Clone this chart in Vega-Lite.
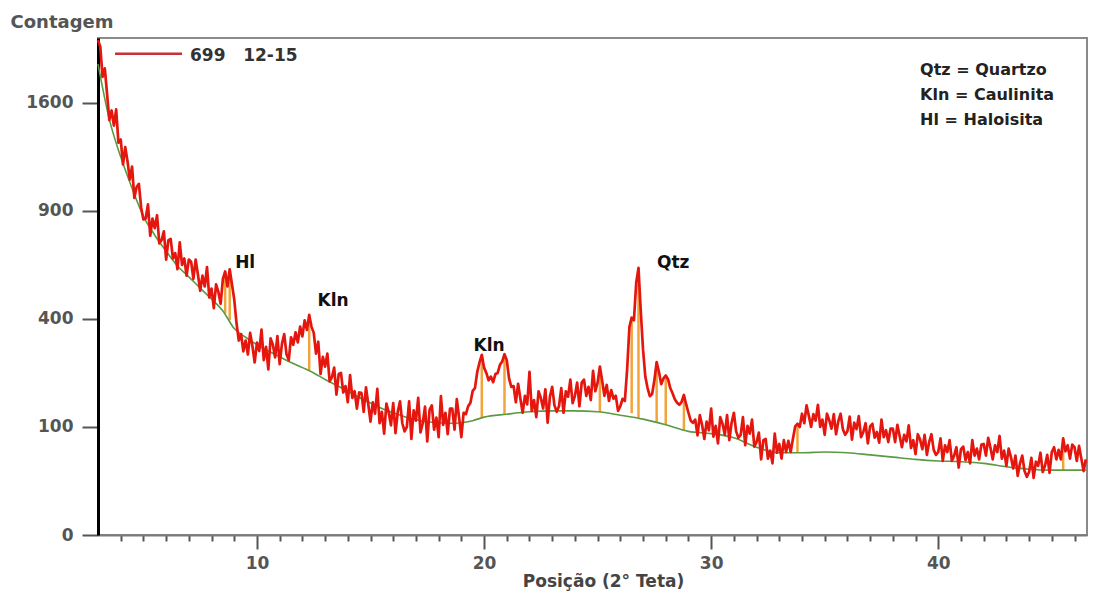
{
"$schema":"https://vega.github.io/schema/vega-lite/v6.json",
"width":989,"height":497,
"autosize":{"type":"none"},
"padding":{"left":98,"top":38,"right":12,"bottom":59},
"background":"#ffffff",
"config":{"view":{"stroke":"#8a8a8a","strokeWidth":2}},
"datasets":{
"sig":[
{"pos":3.0,"count":2098},{"pos":3.1,"count":2043},{"pos":3.2,"count":1798},{"pos":3.3,"count":1866},{"pos":3.4,"count":1665},{"pos":3.5,"count":1475},{"pos":3.6,"count":1544},{"pos":3.7,"count":1436},{"pos":3.8,"count":1552},{"pos":3.9,"count":1318},
{"pos":4.0,"count":1340},{"pos":4.1,"count":1176},{"pos":4.2,"count":1289},{"pos":4.3,"count":1197},{"pos":4.4,"count":1082},{"pos":4.5,"count":1163},{"pos":4.6,"count":973},{"pos":4.7,"count":1037},{"pos":4.8,"count":1056},{"pos":4.9,"count":918},
{"pos":5.0,"count":853},{"pos":5.1,"count":858},{"pos":5.2,"count":936},{"pos":5.3,"count":767},{"pos":5.4,"count":858},{"pos":5.5,"count":807},{"pos":5.6,"count":876},{"pos":5.7,"count":729},{"pos":5.8,"count":745},{"pos":5.9,"count":790},
{"pos":6.0,"count":650},{"pos":6.1,"count":745},{"pos":6.2,"count":751},{"pos":6.3,"count":655},{"pos":6.4,"count":681},{"pos":6.5,"count":605},{"pos":6.6,"count":734},{"pos":6.7,"count":625},{"pos":6.8,"count":655},{"pos":6.9,"count":576},
{"pos":7.0,"count":650},{"pos":7.1,"count":640},{"pos":7.2,"count":562},{"pos":7.3,"count":650},{"pos":7.4,"count":581},{"pos":7.5,"count":511},{"pos":7.6,"count":576},{"pos":7.7,"count":529},{"pos":7.8,"count":615},{"pos":7.9,"count":484},
{"pos":8.0,"count":520},{"pos":8.1,"count":441},{"pos":8.2,"count":538},{"pos":8.3,"count":506},{"pos":8.4,"count":458},{"pos":8.5,"count":562},{"pos":8.6,"count":595},{"pos":8.7,"count":529},{"pos":8.8,"count":605},{"pos":8.9,"count":538},
{"pos":9.0,"count":475},{"pos":9.1,"count":384},{"pos":9.2,"count":324},{"pos":9.3,"count":346},{"pos":9.4,"count":289},{"pos":9.5,"count":324},{"pos":9.6,"count":279},{"pos":9.7,"count":350},{"pos":9.8,"count":306},{"pos":9.9,"count":255},
{"pos":10.0,"count":317},{"pos":10.1,"count":290},{"pos":10.2,"count":361},{"pos":10.3,"count":262},{"pos":10.4,"count":303},{"pos":10.5,"count":235},{"pos":10.6,"count":331},{"pos":10.7,"count":310},{"pos":10.8,"count":270},{"pos":10.9,"count":339},
{"pos":11.0,"count":250},{"pos":11.1,"count":313},{"pos":11.2,"count":346},{"pos":11.3,"count":280},{"pos":11.4,"count":262},{"pos":11.5,"count":335},{"pos":11.6,"count":310},{"pos":11.7,"count":352},{"pos":11.8,"count":318},{"pos":11.9,"count":372},
{"pos":12.0,"count":338},{"pos":12.1,"count":395},{"pos":12.2,"count":360},{"pos":12.3,"count":415},{"pos":12.4,"count":372},{"pos":12.5,"count":350},{"pos":12.6,"count":282},{"pos":12.7,"count":320},{"pos":12.8,"count":222},{"pos":12.9,"count":272},
{"pos":13.0,"count":243},{"pos":13.1,"count":282},{"pos":13.2,"count":202},{"pos":13.3,"count":213},{"pos":13.4,"count":240},{"pos":13.5,"count":169},{"pos":13.6,"count":222},{"pos":13.7,"count":225},{"pos":13.8,"count":174},{"pos":13.9,"count":190},
{"pos":14.0,"count":151},{"pos":14.1,"count":219},{"pos":14.2,"count":161},{"pos":14.3,"count":177},{"pos":14.4,"count":137},{"pos":14.5,"count":174},{"pos":14.6,"count":173},{"pos":14.7,"count":130},{"pos":14.8,"count":187},{"pos":14.9,"count":147},
{"pos":15.0,"count":110},{"pos":15.1,"count":151},{"pos":15.2,"count":126},{"pos":15.3,"count":183},{"pos":15.4,"count":107},{"pos":15.5,"count":130},{"pos":15.6,"count":88},{"pos":15.7,"count":148},{"pos":15.8,"count":129},{"pos":15.9,"count":103},
{"pos":16.0,"count":149},{"pos":16.1,"count":89},{"pos":16.2,"count":130},{"pos":16.3,"count":153},{"pos":16.4,"count":107},{"pos":16.5,"count":92},{"pos":16.6,"count":100},{"pos":16.7,"count":153},{"pos":16.8,"count":79},{"pos":16.9,"count":133},
{"pos":17.0,"count":112},{"pos":17.1,"count":161},{"pos":17.2,"count":90},{"pos":17.3,"count":107},{"pos":17.4,"count":141},{"pos":17.5,"count":75},{"pos":17.6,"count":134},{"pos":17.7,"count":144},{"pos":17.8,"count":95},{"pos":17.9,"count":118},
{"pos":18.0,"count":82},{"pos":18.1,"count":165},{"pos":18.2,"count":104},{"pos":18.3,"count":128},{"pos":18.4,"count":87},{"pos":18.5,"count":137},{"pos":18.6,"count":137},{"pos":18.7,"count":95},{"pos":18.8,"count":158},{"pos":18.9,"count":118},
{"pos":19.0,"count":82},{"pos":19.1,"count":128},{"pos":19.2,"count":125},{"pos":19.3,"count":142},{"pos":19.4,"count":150},{"pos":19.5,"count":178},{"pos":19.6,"count":185},{"pos":19.7,"count":228},{"pos":19.8,"count":255},{"pos":19.9,"count":278},
{"pos":20.0,"count":240},{"pos":20.1,"count":225},{"pos":20.2,"count":205},{"pos":20.3,"count":215},{"pos":20.4,"count":200},{"pos":20.5,"count":222},{"pos":20.6,"count":225},{"pos":20.7,"count":248},{"pos":20.8,"count":258},{"pos":20.9,"count":280},
{"pos":21.0,"count":262},{"pos":21.1,"count":210},{"pos":21.2,"count":188},{"pos":21.3,"count":190},{"pos":21.4,"count":151},{"pos":21.5,"count":196},{"pos":21.6,"count":159},{"pos":21.7,"count":128},{"pos":21.8,"count":166},{"pos":21.9,"count":146},
{"pos":22.0,"count":228},{"pos":22.1,"count":132},{"pos":22.2,"count":156},{"pos":22.3,"count":119},{"pos":22.4,"count":177},{"pos":22.5,"count":161},{"pos":22.6,"count":137},{"pos":22.7,"count":182},{"pos":22.8,"count":108},{"pos":22.9,"count":164},
{"pos":23.0,"count":188},{"pos":23.1,"count":144},{"pos":23.2,"count":130},{"pos":23.3,"count":142},{"pos":23.4,"count":185},{"pos":23.5,"count":128},{"pos":23.6,"count":177},{"pos":23.7,"count":164},{"pos":23.8,"count":207},{"pos":23.9,"count":149},
{"pos":24.0,"count":166},{"pos":24.1,"count":199},{"pos":24.2,"count":142},{"pos":24.3,"count":199},{"pos":24.4,"count":207},{"pos":24.5,"count":166},{"pos":24.6,"count":188},{"pos":24.7,"count":156},{"pos":24.8,"count":231},{"pos":24.9,"count":177},
{"pos":25.0,"count":199},{"pos":25.1,"count":243},{"pos":25.2,"count":204},{"pos":25.3,"count":166},{"pos":25.4,"count":193},{"pos":25.5,"count":154},{"pos":25.6,"count":180},{"pos":25.7,"count":159},{"pos":25.8,"count":166},{"pos":25.9,"count":132},
{"pos":26.0,"count":142},{"pos":26.1,"count":159},{"pos":26.2,"count":154},{"pos":26.3,"count":235},{"pos":26.4,"count":370},{"pos":26.5,"count":405},{"pos":26.6,"count":395},{"pos":26.7,"count":545},{"pos":26.8,"count":611},{"pos":26.9,"count":430},
{"pos":27.0,"count":295},{"pos":27.1,"count":215},{"pos":27.2,"count":185},{"pos":27.3,"count":165},{"pos":27.4,"count":170},{"pos":27.5,"count":205},{"pos":27.6,"count":256},{"pos":27.7,"count":228},{"pos":27.8,"count":195},{"pos":27.9,"count":210},
{"pos":28.0,"count":218},{"pos":28.1,"count":208},{"pos":28.2,"count":185},{"pos":28.3,"count":172},{"pos":28.4,"count":158},{"pos":28.5,"count":150},{"pos":28.6,"count":145},{"pos":28.7,"count":152},{"pos":28.8,"count":168},{"pos":28.9,"count":146},
{"pos":29.0,"count":128},{"pos":29.1,"count":112},{"pos":29.2,"count":108},{"pos":29.3,"count":114},{"pos":29.4,"count":85},{"pos":29.5,"count":123},{"pos":29.6,"count":104},{"pos":29.7,"count":79},{"pos":29.8,"count":110},{"pos":29.9,"count":94},
{"pos":30.0,"count":137},{"pos":30.1,"count":83},{"pos":30.2,"count":102},{"pos":30.3,"count":72},{"pos":30.4,"count":119},{"pos":30.5,"count":106},{"pos":30.6,"count":86},{"pos":30.7,"count":123},{"pos":30.8,"count":77},{"pos":30.9,"count":108},
{"pos":31.0,"count":128},{"pos":31.1,"count":92},{"pos":31.2,"count":81},{"pos":31.3,"count":86},{"pos":31.4,"count":119},{"pos":31.5,"count":69},{"pos":31.6,"count":102},{"pos":31.7,"count":88},{"pos":31.8,"count":114},{"pos":31.9,"count":67},
{"pos":32.0,"count":74},{"pos":32.1,"count":90},{"pos":32.2,"count":49},{"pos":32.3,"count":77},{"pos":32.4,"count":79},{"pos":32.5,"count":50},{"pos":32.6,"count":61},{"pos":32.7,"count":44},{"pos":32.8,"count":88},{"pos":32.9,"count":58},
{"pos":33.0,"count":71},{"pos":33.1,"count":50},{"pos":33.2,"count":77},{"pos":33.3,"count":59},{"pos":33.4,"count":76},{"pos":33.5,"count":59},{"pos":33.6,"count":79},{"pos":33.7,"count":101},{"pos":33.8,"count":106},{"pos":33.9,"count":100},
{"pos":34.0,"count":126},{"pos":34.1,"count":107},{"pos":34.2,"count":144},{"pos":34.3,"count":122},{"pos":34.4,"count":100},{"pos":34.5,"count":125},{"pos":34.6,"count":112},{"pos":34.7,"count":145},{"pos":34.8,"count":100},{"pos":34.9,"count":114},
{"pos":35.0,"count":86},{"pos":35.1,"count":126},{"pos":35.2,"count":113},{"pos":35.3,"count":97},{"pos":35.4,"count":125},{"pos":35.5,"count":87},{"pos":35.6,"count":111},{"pos":35.7,"count":126},{"pos":35.8,"count":96},{"pos":35.9,"count":86},
{"pos":36.0,"count":92},{"pos":36.1,"count":120},{"pos":36.2,"count":78},{"pos":36.3,"count":108},{"pos":36.4,"count":96},{"pos":36.5,"count":121},{"pos":36.6,"count":82},{"pos":36.7,"count":91},{"pos":36.8,"count":107},{"pos":36.9,"count":72},
{"pos":37.0,"count":101},{"pos":37.1,"count":106},{"pos":37.2,"count":81},{"pos":37.3,"count":91},{"pos":37.4,"count":73},{"pos":37.5,"count":114},{"pos":37.6,"count":82},{"pos":37.7,"count":94},{"pos":37.8,"count":74},{"pos":37.9,"count":97},
{"pos":38.0,"count":97},{"pos":38.1,"count":74},{"pos":38.2,"count":104},{"pos":38.3,"count":84},{"pos":38.4,"count":66},{"pos":38.5,"count":86},{"pos":38.6,"count":75},{"pos":38.7,"count":103},{"pos":38.8,"count":65},{"pos":38.9,"count":77},
{"pos":39.0,"count":56},{"pos":39.1,"count":87},{"pos":39.2,"count":78},{"pos":39.3,"count":63},{"pos":39.4,"count":86},{"pos":39.5,"count":55},{"pos":39.6,"count":74},{"pos":39.7,"count":87},{"pos":39.8,"count":62},{"pos":39.9,"count":55},
{"pos":40.0,"count":59},{"pos":40.1,"count":80},{"pos":40.2,"count":47},{"pos":40.3,"count":69},{"pos":40.4,"count":59},{"pos":40.5,"count":77},{"pos":40.6,"count":47},{"pos":40.7,"count":54},{"pos":40.8,"count":66},{"pos":40.9,"count":39},
{"pos":41.0,"count":63},{"pos":41.1,"count":67},{"pos":41.2,"count":48},{"pos":41.3,"count":59},{"pos":41.4,"count":44},{"pos":41.5,"count":77},{"pos":41.6,"count":54},{"pos":41.7,"count":64},{"pos":41.8,"count":49},{"pos":41.9,"count":70},
{"pos":42.0,"count":71},{"pos":42.1,"count":54},{"pos":42.2,"count":81},{"pos":42.3,"count":65},{"pos":42.4,"count":49},{"pos":42.5,"count":69},{"pos":42.6,"count":59},{"pos":42.7,"count":84},{"pos":42.8,"count":50},{"pos":42.9,"count":61},
{"pos":43.0,"count":41},{"pos":43.1,"count":64},{"pos":43.2,"count":52},{"pos":43.3,"count":38},{"pos":43.4,"count":54},{"pos":43.5,"count":30},{"pos":43.6,"count":44},{"pos":43.7,"count":54},{"pos":43.8,"count":35},{"pos":43.9,"count":29},
{"pos":44.0,"count":34},{"pos":44.1,"count":51},{"pos":44.2,"count":28},{"pos":44.3,"count":46},{"pos":44.4,"count":41},{"pos":44.5,"count":58},{"pos":44.6,"count":34},{"pos":44.7,"count":41},{"pos":44.8,"count":55},{"pos":44.9,"count":33},
{"pos":45.0,"count":59},{"pos":45.1,"count":66},{"pos":45.2,"count":49},{"pos":45.3,"count":62},{"pos":45.4,"count":49},{"pos":45.5,"count":80},{"pos":45.6,"count":60},{"pos":45.7,"count":69},{"pos":45.8,"count":50},{"pos":45.9,"count":70},
{"pos":46.0,"count":66},{"pos":46.1,"count":47},{"pos":46.2,"count":68},{"pos":46.3,"count":50},{"pos":46.4,"count":35},{"pos":46.5,"count":49}
],
"bg":[
{"pos":3.0,"count":1900},{"pos":3.5,"count":1480},{"pos":4.0,"count":1225},{"pos":4.5,"count":1030},{"pos":5.0,"count":870},{"pos":5.5,"count":770},{"pos":6.0,"count":690},{"pos":6.5,"count":620},{"pos":7.0,"count":571},{"pos":7.5,"count":522},{"pos":8.0,"count":477},{"pos":8.5,"count":430},{"pos":9.0,"count":365},{"pos":9.5,"count":335},{"pos":10.0,"count":310},{"pos":10.5,"count":290},{"pos":11.0,"count":272},{"pos":11.5,"count":255},{"pos":12.0,"count":240},{"pos":12.5,"count":225},{"pos":13.0,"count":207},{"pos":13.5,"count":192},{"pos":14.0,"count":177},{"pos":14.5,"count":162},{"pos":15.0,"count":149},{"pos":15.5,"count":137},{"pos":16.0,"count":128},{"pos":16.5,"count":120},{"pos":17.0,"count":114},{"pos":17.5,"count":110},{"pos":18.0,"count":108},{"pos":18.5,"count":107},{"pos":19.0,"count":108},{"pos":19.5,"count":112},{"pos":20.0,"count":119},{"pos":21.0,"count":125},{"pos":22.0,"count":130},{"pos":23.0,"count":132},{"pos":24.0,"count":132},{"pos":25.0,"count":130},{"pos":26.0,"count":123},{"pos":27.0,"count":115},{"pos":28.0,"count":104},{"pos":29.0,"count":92},{"pos":30.0,"count":88},{"pos":31.0,"count":81},{"pos":32.0,"count":66},{"pos":33.0,"count":58},{"pos":34.0,"count":58},{"pos":35.0,"count":59},{"pos":36.0,"count":58},{"pos":37.0,"count":55},{"pos":38.0,"count":52},{"pos":39.0,"count":49},{"pos":40.0,"count":47},{"pos":41.0,"count":46},{"pos":42.0,"count":44},{"pos":43.0,"count":40},{"pos":44.0,"count":37},{"pos":45.0,"count":36},{"pos":46.5,"count":36}
],
"sticks":[
{"pos":8.6,"count":420,"top":595},{"pos":8.8,"count":395,"top":605},{"pos":12.3,"count":231,"top":415},{"pos":19.9,"count":118,"top":278},{"pos":20.9,"count":124,"top":280},{"pos":25.1,"count":130,"top":243},{"pos":26.5,"count":127,"top":405},{"pos":26.8,"count":117,"top":611},{"pos":27.6,"count":109,"top":256},{"pos":28.0,"count":104,"top":218},{"pos":28.8,"count":94,"top":168},{"pos":33.8,"count":58,"top":106},{"pos":45.5,"count":36,"top":80}
],
"peaks":[
{"pos":9.48,"count":634,"label":"Hl"},{"pos":13.35,"count":469,"label":"Kln"},{"pos":20.22,"count":306,"label":"Kln"},{"pos":28.33,"count":634,"label":"Qtz"}
],
"key":[
{"pos":39.2,"count":1854,"label":"Qtz = Quartzo"},{"pos":39.2,"count":1660,"label":"Kln = Caulinita"},{"pos":39.2,"count":1477,"label":"Hl = Haloisita"}
],
"legline":[{"pos":3.75,"pos2":6.7,"count":1984}],
"legtext":[{"pos":7.05,"count":1967,"label":"699\u00a0\u00a0\u00a012-15"}]
},
"encoding":{
"x":{"field":"pos","type":"quantitative",
 "scale":{"domain":[3,46.55],"nice":false,"zero":false},
 "axis":{"values":[4,5,6,7,8,9,10,11,12,13,14,15,16,17,18,19,20,21,22,23,24,25,26,27,28,29,30,31,32,33,34,35,36,37,38,39,40,41,42,43,44,45,46],
  "tickSize":{"condition":{"test":"datum.value % 10 === 0","value":14},"value":6},
  "labelExpr":"datum.value % 10 === 0 ? datum.label : ''",
  "grid":false,"domainColor":"#7a7a7a","domainWidth":2,"tickColor":"#555555","tickWidth":2,
  "labelFont":"DejaVu Sans","labelFontWeight":"bold","labelFontSize":17,"labelColor":"#555555","labelPadding":6,
  "title":"Posição (2° Teta)","titleFont":"DejaVu Sans","titleFontWeight":"bold","titleFontSize":17,"titleColor":"#444444","titlePadding":2,"titleX":505}},
"y":{"field":"count","type":"quantitative",
 "scale":{"type":"sqrt","domain":[0,2116],"nice":false},
 "axis":{"values":[0,100,400,900,1600],"format":"d","grid":false,"domainColor":"#000000","domainWidth":3,"tickColor":"#555555","tickWidth":2,"tickSize":16,
  "labelFont":"DejaVu Sans","labelFontWeight":"bold","labelFontSize":17,"labelColor":"#555555","labelPadding":9,
  "title":"Contagem","titleAngle":0,"titleAlign":"left","titleBaseline":"middle","titleX":-88,"titleY":-16,
  "titleFont":"DejaVu Sans","titleFontWeight":"bold","titleFontSize":18,"titleColor":"#555555"}}
},
"layer":[
{"data":{"name":"sticks"},"mark":{"type":"rule","color":"#f2a43a","strokeWidth":2.5},"encoding":{"y2":{"field":"top"}}},
{"data":{"name":"bg"},"mark":{"type":"line","color":"#5a9a40","strokeWidth":1.6,"interpolate":"monotone"},"encoding":{}},
{"data":{"name":"sig"},"mark":{"type":"line","color":"#e5160e","strokeWidth":2.7,"strokeJoin":"round"},"encoding":{}},
{"data":{"name":"legline"},"mark":{"type":"rule","color":"#c83038","strokeWidth":2.5},"encoding":{"x2":{"field":"pos2"}}},
{"data":{"name":"legtext"},"mark":{"type":"text","align":"left","baseline":"middle","font":"DejaVu Sans","fontWeight":"bold","fontSize":17,"color":"#333333"},"encoding":{"text":{"field":"label"}}},
{"data":{"name":"peaks"},"mark":{"type":"text","align":"center","baseline":"middle","font":"DejaVu Sans","fontWeight":"bold","fontSize":17,"color":"#111111"},"encoding":{"text":{"field":"label"}}},
{"data":{"name":"key"},"mark":{"type":"text","align":"left","baseline":"middle","font":"DejaVu Sans","fontWeight":"bold","fontSize":16,"color":"#222222"},"encoding":{"text":{"field":"label"}}}
]
}
